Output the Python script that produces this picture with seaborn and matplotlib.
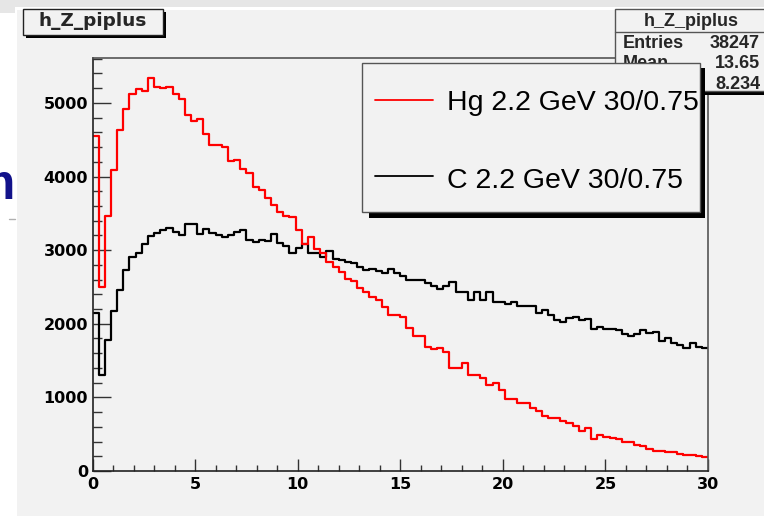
import numpy as np
import pandas as pd
import matplotlib
matplotlib.use("Agg")
import matplotlib.pyplot as plt
from matplotlib.patches import Rectangle
from matplotlib.lines import Line2D
from matplotlib.ticker import MultipleLocator
import seaborn as sns

# ---------------- data ----------------
hist_name = "h_Z_piplus"
x_range = (0.0, 30.0)
n_bins = 100

hg_counts = [
    4552, 2504, 3465, 4090, 4633, 4914, 5122, 5190, 5167, 5344,
    5222, 5200, 5222, 5118, 5058, 4837, 4760, 4787, 4579, 4429,
    4429, 4398, 4216, 4226, 4099, 4053, 3863, 3818, 3705, 3614,
    3523, 3465, 3455, 3274, 3084, 3183, 3012, 2957, 2844, 2776,
    2708, 2604, 2586, 2482, 2436, 2368, 2323, 2232, 2120, 2120,
    2097, 1939, 1840, 1840, 1680, 1658, 1676, 1621, 1395, 1395,
    1463, 1304, 1304, 1259, 1168, 1200, 1100, 978, 978, 919,
    919, 851, 820, 752, 716, 716, 684, 657, 616, 543,
    580, 435, 495, 466, 450, 428, 394, 390, 353, 345,
    300, 272, 265, 258, 254, 235, 222, 218, 204, 188,
]
c_counts = [
    2151, 1304, 1780, 2174, 2459, 2731, 2912, 2957, 3084, 3197,
    3229, 3274, 3297, 3251, 3207, 3352, 3356, 3220, 3288, 3234,
    3207, 3184, 3207, 3251, 3274, 3139, 3116, 3139, 3125, 3216,
    3102, 3057, 2957, 3034, 3080, 2957, 2966, 2912, 2989, 2876,
    2867, 2844, 2822, 2767, 2731, 2740, 2717, 2690, 2747, 2686,
    2645, 2595, 2600, 2600, 2560, 2510, 2469, 2515, 2563, 2437,
    2437, 2323, 2437, 2323, 2437, 2292, 2292, 2265, 2301, 2242,
    2242, 2242, 2142, 2188, 2120, 2052, 2029, 2074, 2097, 2052,
    2061, 1925, 1961, 1929, 1929, 1916, 1861, 1834, 1861, 1916,
    1879, 1893, 1771, 1803, 1743, 1712, 1667, 1743, 1689, 1667,
]
series_labels = ["Hg 2.2 GeV 30/0.75", "C 2.2 GeV 30/0.75"]
series_colors = ["#ff0000", "#000000"]

stats_names = ["Entries", "Mean", "RMS"]
stats_values = ["38247", "13.65", "8.234"]

y_max = 5610

# ---------------- figure ----------------
W, H = 764, 516
sns.set_style("ticks")
plt.rcParams["font.family"] = ["DejaVu Sans"]

fig = plt.figure(figsize=(W / 100, H / 100), dpi=100)
fig.patch.set_facecolor("white")


def fx(px):
    return px / W


def fy(py):
    return 1 - py / H


def rect(x0, y0, x1, y1, **kw):
    return Rectangle((fx(x0), fy(y1)), fx(x1) - fx(x0), fy(y0) - fy(y1),
                     transform=fig.transFigure, **kw)


CANVAS = "#f2f2f2"

# page background behind the canvas
fig.add_artist(rect(0, 0, W, 7, facecolor="#e6e6e6", edgecolor="none", zorder=-20))
fig.add_artist(rect(0, 0, 15, 13, facecolor="#e6e6e6", edgecolor="none", zorder=-20))
fig.text(fx(15), fy(199), "m", ha="right", va="baseline", fontsize=36,
         color="#12128a", weight="bold", family="Liberation Sans", zorder=-19)
fig.add_artist(Line2D([fx(9), fx(15)], [fy(219), fy(219)], color="#b0b0b0",
                      lw=1.0, transform=fig.transFigure, zorder=-19))
fig.add_artist(rect(17, 10, W + 5, H + 5, facecolor=CANVAS, edgecolor="none", zorder=-10))

# ---------------- axes ----------------
ax_l, ax_r, ax_t, ax_b = 92.5, 708, 58, 471
ax = fig.add_axes([fx(ax_l), fy(ax_b), fx(ax_r) - fx(ax_l), fy(ax_t) - fy(ax_b)])
ax.set_facecolor(CANVAS)

edges = np.linspace(x_range[0], x_range[1], n_bins + 1)
centers = 0.5 * (edges[:-1] + edges[1:])

df = pd.DataFrame({
    "z": np.concatenate([centers, centers]),
    "count": np.concatenate([hg_counts, c_counts]).astype(float),
    "sample": [series_labels[0]] * n_bins + [series_labels[1]] * n_bins,
})

# carbon first, mercury drawn on top
for label, color in zip(series_labels[::-1], series_colors[::-1]):
    sub = df[df["sample"] == label].reset_index(drop=True)
    sns.histplot(data=sub, x="z", weights="count",
                 bins=n_bins, binrange=x_range, element="step", fill=False,
                 color=color, linewidth=1.6, ax=ax)

ax.set_xlim(*x_range)
ax.set_ylim(0, y_max)
ax.set_xlabel("")
ax.set_ylabel("")

ax.xaxis.set_major_locator(MultipleLocator(5))
ax.xaxis.set_minor_locator(MultipleLocator(1))
ax.yaxis.set_major_locator(MultipleLocator(1000))
ax.yaxis.set_minor_locator(MultipleLocator(200))

ax.tick_params(axis="both", which="both", direction="in", color="#333333", width=1.0)
ax.tick_params(axis="x", which="major", length=8.6, pad=4.6)
ax.tick_params(axis="x", which="minor", length=4.3)
ax.tick_params(axis="y", which="major", length=13, pad=3.2)
ax.tick_params(axis="y", which="minor", length=6.5)
ax.tick_params(top=False, right=False, which="both")

for lab in ax.get_xticklabels() + ax.get_yticklabels():
    lab.set_fontweight("bold")
    lab.set_fontsize(11.5)
    lab.set_color("black")

for side in ["left", "bottom"]:
    ax.spines[side].set_color("#222222")
    ax.spines[side].set_linewidth(1.2)
for side in ["top", "right"]:
    ax.spines[side].set_visible(True)
    ax.spines[side].set_color("#555555")
    ax.spines[side].set_linewidth(1.2)

# ---------------- title box ----------------
fig.add_artist(rect(25.5, 11.5, 165.5, 37.5, facecolor="black", edgecolor="none", zorder=20))
fig.add_artist(rect(23, 9, 163, 35, facecolor=CANVAS, edgecolor="#222222", lw=1.0, zorder=21))
fig.text(fx(93), fy(26.5), hist_name, ha="center", va="baseline", fontsize=13.3,
         weight="bold", zorder=22)

# ---------------- statistics box ----------------
fig.add_artist(rect(619, 13, W + 10, 94.5, facecolor="black", edgecolor="none", zorder=20))
fig.add_artist(rect(615, 9, W + 6, 91, facecolor=CANVAS, edgecolor="#555555", lw=1.0, zorder=21))
fig.add_artist(Line2D([fx(615), fx(W)], [fy(31.5), fy(31.5)], color="#555555", lw=1.0,
                      transform=fig.transFigure, zorder=22))
fig.text(fx(691), fy(25.5), hist_name, ha="center", va="baseline", fontsize=13,
         weight="bold", family="Liberation Sans", zorder=22)
for i, (name, val) in enumerate(zip(stats_names, stats_values)):
    base = 48 + i * 20.3
    fig.text(fx(623), fy(base), name, ha="left", va="baseline", fontsize=13,
             weight="bold", family="Liberation Sans", zorder=22)
    fig.text(fx(760), fy(base), val, ha="right", va="baseline", fontsize=13,
             weight="bold", family="Liberation Sans", zorder=22)

# ---------------- legend ----------------
lg_l, lg_t, lg_r, lg_b = 362, 62.5, 700, 212
fig.add_artist(rect(lg_l + 7, lg_t + 5, lg_r + 5, lg_b + 6, facecolor="black",
                    edgecolor="none", zorder=30))
fig.add_artist(rect(lg_l, lg_t, lg_r, lg_b, facecolor=CANVAS, edgecolor="#555555",
                    lw=1.0, zorder=31))
entry_line_y = [100, 176]
entry_base_y = [110, 188.5]
for label, color, ly, by in zip(series_labels, series_colors, entry_line_y, entry_base_y):
    fig.add_artist(Line2D([fx(375), fx(433)], [fy(ly), fy(ly)], color=color, lw=1.3,
                          transform=fig.transFigure, zorder=32))
    fig.text(fx(447), fy(by), label, ha="left", va="baseline", fontsize=20.5,
             family="Liberation Sans", color="black", zorder=32)

fig.savefig("out.png", dpi=100, facecolor=fig.get_facecolor())
